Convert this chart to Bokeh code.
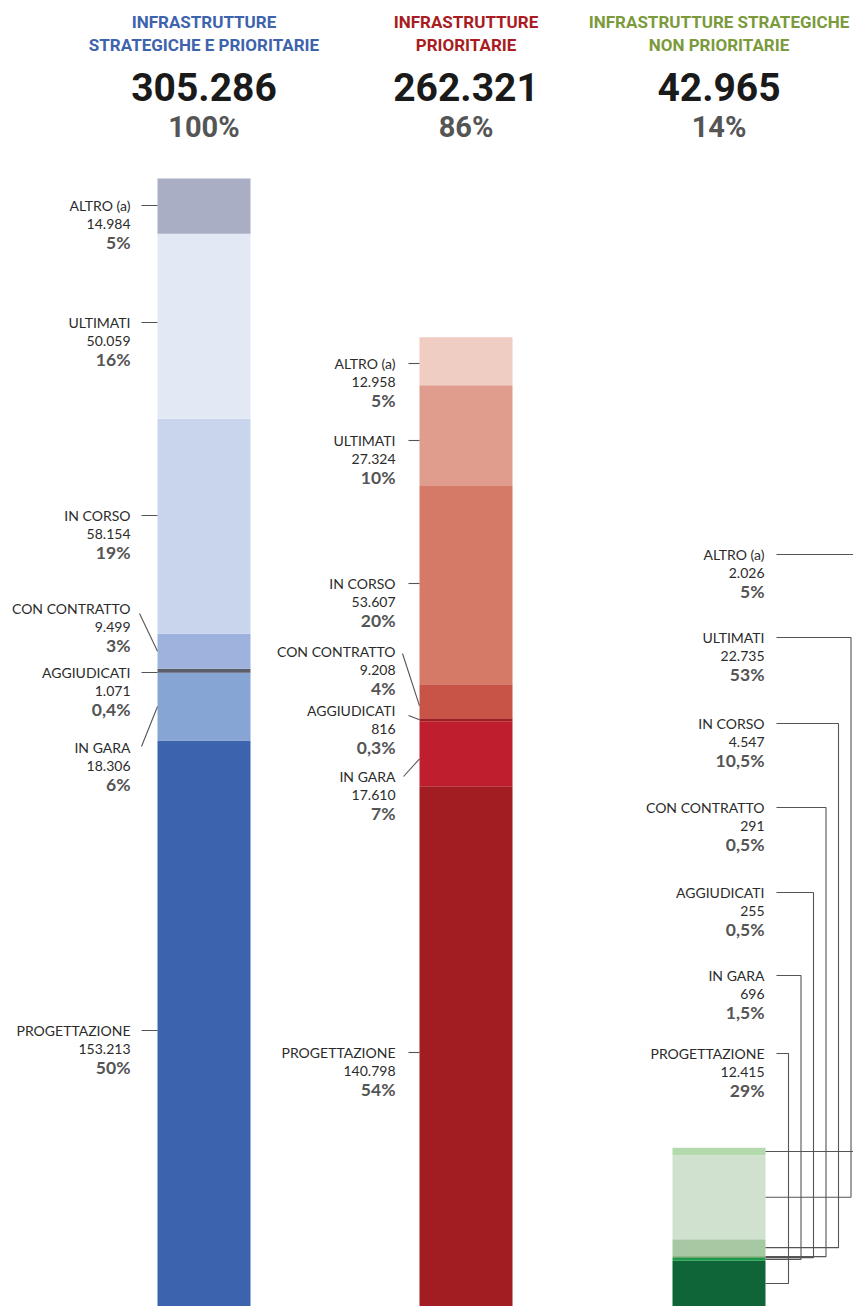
import numpy as np
from bokeh.plotting import figure
from bokeh.models import Range1d
from bokeh.core.properties import value
from bokeh.embed import file_html
from bokeh.resources import INLINE

# ---- data (stack order: bottom -> top) ----
CATEGORIES = ["PROGETTAZIONE", "IN GARA", "AGGIUDICATI", "CON CONTRATTO",
              "IN CORSO", "ULTIMATI", "ALTRO (a)"]

VAL_SP = [153213, 18306, 1071, 9499, 58154, 50059, 14984]   # strategiche e prioritarie
VAL_P = [140798, 17610, 816, 9208, 53607, 27324, 12958]     # prioritarie
VAL_NP = [12415, 696, 255, 291, 4547, 22735, 2026]          # strategiche non prioritarie

PCT_SP = ["50%", "6%", "0,4%", "3%", "19%", "16%", "5%"]
PCT_P = ["54%", "7%", "0,3%", "4%", "20%", "10%", "5%"]
PCT_NP = ["29%", "1,5%", "0,5%", "0,5%", "10,5%", "53%", "5%"]

TOTALS = [305286, 262321, 42965]
TOTAL_PCT = ["100%", "86%", "14%"]
TITLES = [["INFRASTRUTTURE", "STRATEGICHE E PRIORITARIE"],
          ["INFRASTRUTTURE", "PRIORITARIE"],
          ["INFRASTRUTTURE STRATEGICHE", "NON PRIORITARIE"]]

# ---- styling ----
TITLE_COLORS = ["#3d63ad", "#a81c22", "#7b9a3c"]
SEG_COLORS = [
    ["#3c63ad", "#86a5d5", "#5a5e68", "#9db3de", "#c8d5ec", "#e2e8f4", "#a9aec4"],
    ["#a11d21", "#be1e2d", "#a01e22", "#c75447", "#d67a68", "#e09d8d", "#f0cdc2"],
    ["#0f6438", "#1a9a4a", "#6fa56c", "#8fb88c", "#a6c9a4", "#d0e2cf", "#b3d9ad"],
]

W, H = 853, 1306
BAR_LEFT = [157, 419, 672]
BAR_W = 93
BAR_TOP_PX = 178          # top of the tallest bar, in pixels from the top

K = (H - BAR_TOP_PX) / TOTALS[0]   # pixels per unit


def Y(px):
    """pixel row (from top) -> data y"""
    return (H - px) / K


def fmt(v):
    return f"{v:,}".replace(",", ".")


VALUES = [VAL_SP, VAL_P, VAL_NP]
PCTS = [PCT_SP, PCT_P, PCT_NP]

# label rows (pixels from top), bottom -> top order
LABEL_Y = [
    [1030, 747, 672, 608, 515, 322, 205],
    [1052, 776, 710, 651, 583, 440, 363],
    [1053, 975, 892, 807, 723, 637, 554],
]
LABEL_RIGHT = [130, 395, 764]
LINE_X0 = [141, 408, 776]

# diagonal leaders for bars 1-2: index -> (x0, dy0, fraction of segment from bottom)
DIAG = [
    {1: (141, -1, 0.5), 3: (139, 5, 0.5)},
    {1: (403, 0, 0.42), 2: (408, 5, 0.5), 3: (402, 2, 0.36)},
]

p = figure(width=W, height=H, x_range=Range1d(0, W), y_range=Range1d(0, Y(0)),
           x_axis_type=None, y_axis_type=None, toolbar_location=None,
           output_backend="svg", min_border=0, outline_line_color=None)
p.grid.visible = False
p.background_fill_color = "white"
p.border_fill_color = "white"

LABEL_FONT = value("Lato")
HEAD_FONT = value("Roboto")
TXT = "#2b2b2b"
PCT_C = "#555555"
LINE_C = "#555555"

for b in range(3):
    vals = np.array(VALUES[b], dtype=float)
    tops = np.cumsum(vals)
    bottoms = tops - vals
    left = BAR_LEFT[b]
    right = left + BAR_W
    p.quad(left=[left] * len(vals), right=[right] * len(vals),
           bottom=bottoms, top=tops, fill_color=SEG_COLORS[b], line_color=None)

    # header
    cx = left + BAR_W / 2
    p.text(x=[cx, cx], y=[Y(21), Y(44)], text=TITLES[b],
           text_font=HEAD_FONT, text_font_style="bold", text_font_size="17px",
           text_color=TITLE_COLORS[b], text_align="center", text_baseline="middle")
    p.text(x=[cx], y=[Y(86)], text=[fmt(TOTALS[b])],
           text_font=HEAD_FONT, text_font_style="bold", text_font_size="39px",
           text_color="#1a1a1a", text_align="center", text_baseline="middle")
    p.text(x=[cx], y=[Y(126)], text=[TOTAL_PCT[b]],
           text_font=HEAD_FONT, text_font_style="bold", text_font_size="29px",
           text_color=PCT_C, text_align="center", text_baseline="middle")

    # labels
    ly = LABEL_Y[b]
    xr = LABEL_RIGHT[b]
    p.text(x=[xr] * 7, y=[Y(v) for v in ly], text=CATEGORIES,
           text_font=LABEL_FONT, text_font_size="14px", text_color=TXT,
           text_align="right", text_baseline="middle")
    p.text(x=[xr] * 7, y=[Y(v + 18.5) for v in ly], text=[fmt(v) for v in VALUES[b]],
           text_font=LABEL_FONT, text_font_size="14px", text_color=TXT,
           text_align="right", text_baseline="middle")
    p.text(x=[xr] * 7, y=[Y(v + 37) for v in ly], text=PCTS[b],
           text_font=LABEL_FONT, text_font_style="bold", text_font_size="17.5px",
           text_color=PCT_C, text_align="right", text_baseline="middle")

    # leader lines
    xs, ys = [], []
    if b < 2:
        for i in range(7):
            if i in DIAG[b]:
                x0, dy, frac = DIAG[b][i]
                xs.append([x0, left])
                ys.append([Y(ly[i] + dy), bottoms[i] + frac * vals[i]])
            else:
                xs.append([LINE_X0[b], left])
                ys.append([Y(ly[i]), Y(ly[i])])
    else:
        for i in range(7):
            vx = 788 + 12.5 * i
            mid = bottoms[i] + vals[i] / 2
            xs.append([LINE_X0[b], vx, vx, right])
            ys.append([Y(ly[i]), Y(ly[i]), mid, mid])
    p.multi_line(xs=xs, ys=ys, line_color=LINE_C, line_width=1.1)

open("out.html", "w").write(file_html(p, INLINE))
